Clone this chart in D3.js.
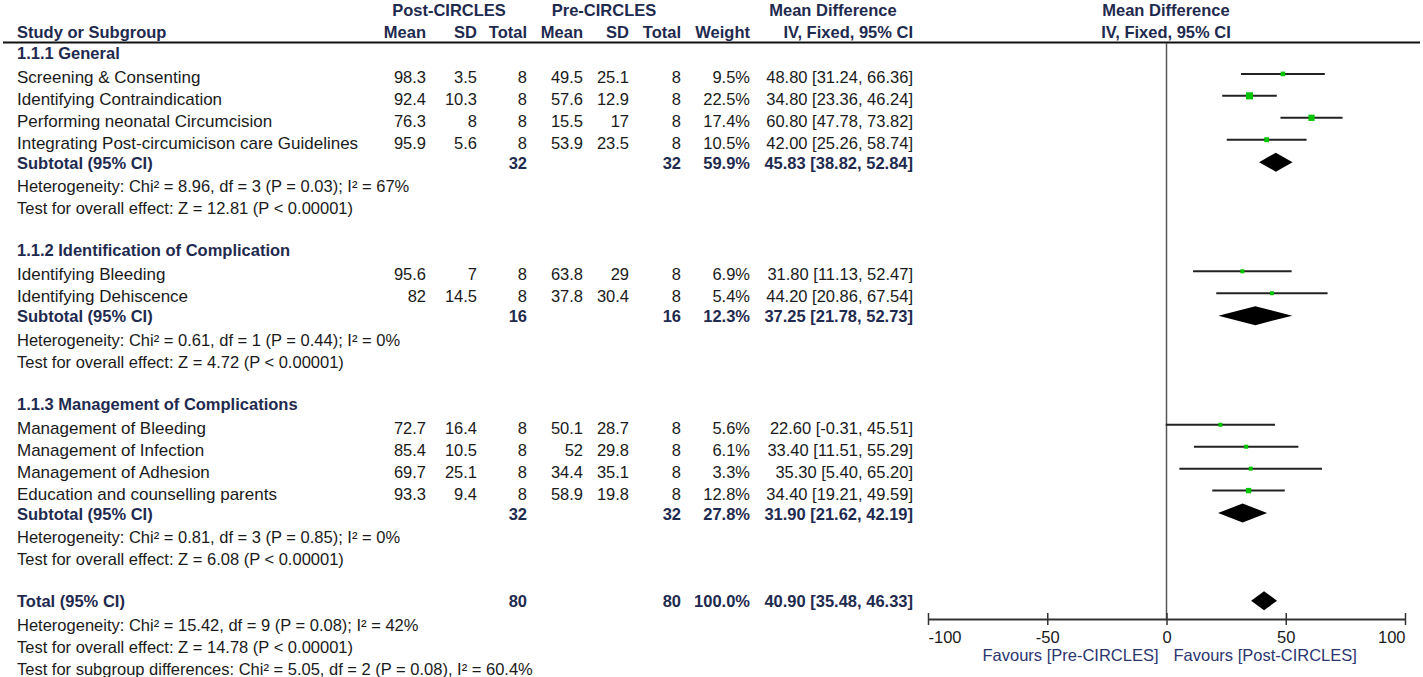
<!DOCTYPE html>
<html>
<head>
<meta charset="utf-8">
<script src="https://cdn.jsdelivr.net/npm/d3@7"></script>
<style>
  body { margin: 0; background: #fff; }
  text { font-family: "Liberation Sans", Arial, sans-serif; font-size: 16.5px; }
</style>
</head>
<body>
<div class="svg-content"></div>
<script>
// subgroups
const groupNames = ["1.1.1 General", "1.1.2 Identification of Complication", "1.1.3 Management of Complications"];
const groupOf = [0, 0, 0, 0, 1, 1, 2, 2, 2, 2];

// studies
const studyNames = [
  "Screening & Consenting",
  "Identifying Contraindication",
  "Performing neonatal Circumcision",
  "Integrating Post-circumicison care Guidelines",
  "Identifying Bleeding",
  "Identifying Dehiscence",
  "Management of Bleeding",
  "Management of Infection",
  "Management of Adhesion",
  "Education and counselling parents"
];
const postMean = [98.3, 92.4, 76.3, 95.9, 95.6, 82, 72.7, 85.4, 69.7, 93.3];
const postSD   = [3.5, 10.3, 8, 5.6, 7, 14.5, 16.4, 10.5, 25.1, 9.4];
const postN    = [8, 8, 8, 8, 8, 8, 8, 8, 8, 8];
const preMean  = [49.5, 57.6, 15.5, 53.9, 63.8, 37.8, 50.1, 52, 34.4, 58.9];
const preSD    = [25.1, 12.9, 17, 23.5, 29, 30.4, 28.7, 29.8, 35.1, 19.8];
const preN     = [8, 8, 8, 8, 8, 8, 8, 8, 8, 8];
const weights  = [9.5, 22.5, 17.4, 10.5, 6.9, 5.4, 5.6, 6.1, 3.3, 12.8];
const md       = [48.80, 34.80, 60.80, 42.00, 31.80, 44.20, 22.60, 33.40, 35.30, 34.40];
const ciLow    = [31.24, 23.36, 47.78, 25.26, 11.13, 20.86, -0.31, 11.51, 5.40, 19.21];
const ciHigh   = [66.36, 46.24, 73.82, 58.74, 52.47, 67.54, 45.51, 55.29, 65.20, 49.59];

// subtotals
const subPostN   = [32, 16, 32];
const subPreN    = [32, 16, 32];
const subWeight  = [59.9, 12.3, 27.8];
const subMd      = [45.83, 37.25, 31.90];
const subLow     = [38.82, 21.78, 21.62];
const subHigh    = [52.84, 52.73, 42.19];
const subHetero  = [
  "Heterogeneity: Chi\u00b2 = 8.96, df = 3 (P = 0.03); I\u00b2 = 67%",
  "Heterogeneity: Chi\u00b2 = 0.61, df = 1 (P = 0.44); I\u00b2 = 0%",
  "Heterogeneity: Chi\u00b2 = 0.81, df = 3 (P = 0.85); I\u00b2 = 0%"
];
const subEffect  = [
  "Test for overall effect: Z = 12.81 (P < 0.00001)",
  "Test for overall effect: Z = 4.72 (P < 0.00001)",
  "Test for overall effect: Z = 6.08 (P < 0.00001)"
];

// total
const totalPostN = 80, totalPreN = 80, totalWeight = 100.0;
const totalMd = 40.90, totalLow = 35.48, totalHigh = 46.33;
const totalNotes = [
  "Heterogeneity: Chi\u00b2 = 15.42, df = 9 (P = 0.08); I\u00b2 = 42%",
  "Test for overall effect: Z = 14.78 (P < 0.00001)",
  "Test for subgroup differences: Chi\u00b2 = 5.05, df = 2 (P = 0.08), I\u00b2 = 60.4%"
];

// axis
const axisTicks = [-100, -50, 0, 50, 100];
const favourLeft = "Favours [Pre-CIRCLES]";
const favourRight = "Favours [Post-CIRCLES]";

const width = 1423, height = 677;
const navy = "#1f2a4f", ink = "#1a1a1a", green = "#00c400";

// plain hyphen for negatives, like the original
const loc = d3.formatLocale({ decimal: ".", thousands: ",", grouping: [3], currency: ["$", ""], minus: "-" });
const f2 = loc.format(".2f"), f1 = loc.format(".1f"), fd = loc.format("d");

const svg = d3.select(".svg-content").append("svg")
  .attr("width", width).attr("height", height);

// build row order
const rows = [];
groupNames.forEach((g, gi) => {
  rows.push({ type: "heading", text: g });
  studyNames.forEach((s, i) => { if (groupOf[i] === gi) rows.push({ type: "study", i: i }); });
  rows.push({ type: "subtotal", g: gi });
  rows.push({ type: "note", text: subHetero[gi] });
  rows.push({ type: "note", text: subEffect[gi] });
  rows.push({ type: "blank" });
});
rows.push({ type: "total" });
totalNotes.forEach(t => rows.push({ type: "note", text: t }));

const yScale = d3.scaleLinear().domain([0, rows.length - 1]).range([59, 673]);
const baseline = (r, idx) => yScale(idx) + (r.type === "study" ? 2 : r.type === "note" ? 1.5 : 0);

const xScale = d3.scaleLinear().domain([-100, 100]).range([928, 1405]);

// column right edges
const col = { postMean: 426, postSD: 477, postN: 527, preMean: 583, preSD: 629, preN: 681, weight: 750, ci: 913 };

const ciText = (m, l, h) => f2(m) + " [" + f2(l) + ", " + f2(h) + "]";

// headers
const header = svg.append("g").attr("font-weight", "bold").attr("fill", navy);
header.append("text").attr("x", 449).attr("y", 16).attr("text-anchor", "middle").text("Post-CIRCLES");
header.append("text").attr("x", 604).attr("y", 16).attr("text-anchor", "middle").text("Pre-CIRCLES");
header.append("text").attr("x", 833).attr("y", 16).attr("text-anchor", "middle").text("Mean Difference");
header.append("text").attr("x", 1166).attr("y", 16).attr("text-anchor", "middle").text("Mean Difference");
header.append("text").attr("x", 17).attr("y", 38).text("Study or Subgroup");
[["Mean", col.postMean], ["SD", col.postSD], ["Total", col.postN], ["Mean", col.preMean],
 ["SD", col.preSD], ["Total", col.preN], ["Weight", col.weight], ["IV, Fixed, 95% CI", col.ci]]
  .forEach(([t, x]) => header.append("text").attr("x", x).attr("y", 38).attr("text-anchor", "end").text(t));
header.append("text").attr("x", 1166).attr("y", 38).attr("text-anchor", "middle").text("IV, Fixed, 95% CI");

svg.append("line").attr("x1", 3).attr("x2", 1420).attr("y1", 42.5).attr("y2", 42.5)
  .attr("stroke", "#111").attr("stroke-width", 2);

// zero line
svg.append("line").attr("x1", xScale(0)).attr("x2", xScale(0)).attr("y1", 43).attr("y2", 619)
  .attr("stroke", "#555").attr("stroke-width", 1.5);

const table = svg.append("g");
const plot = svg.append("g");

const rcell = (g, x, y, t) => g.append("text").attr("x", x).attr("y", y).attr("text-anchor", "end").text(t);

rows.forEach((r, idx) => {
  const y = baseline(r, idx);
  if (r.type === "heading") {
    table.append("text").attr("x", 17).attr("y", y).attr("font-weight", "bold").attr("fill", navy).text(r.text);
  } else if (r.type === "study") {
    const i = r.i;
    const g = table.append("g").attr("fill", ink);
    g.append("text").attr("x", 17).attr("y", y).style("font-size", "17px").text(studyNames[i]);
    rcell(g, col.postMean, y, postMean[i]);
    rcell(g, col.postSD, y, postSD[i]);
    rcell(g, col.postN, y, postN[i]);
    rcell(g, col.preMean, y, preMean[i]);
    rcell(g, col.preSD, y, preSD[i]);
    rcell(g, col.preN, y, preN[i]);
    rcell(g, col.weight, y, f1(weights[i]) + "%");
    rcell(g, col.ci, y, ciText(md[i], ciLow[i], ciHigh[i]));
    const my = y - 9;
    plot.append("line").attr("x1", xScale(ciLow[i])).attr("x2", xScale(ciHigh[i]))
      .attr("y1", my).attr("y2", my).attr("stroke", "#222").attr("stroke-width", 2);
    const s = Math.max(4, 1.5 * Math.sqrt(weights[i]));
    plot.append("rect").attr("x", xScale(md[i]) - s / 2).attr("y", my - s / 2)
      .attr("width", s).attr("height", s).attr("fill", green);
  } else if (r.type === "subtotal" || r.type === "total") {
    const isTot = r.type === "total";
    const gi = r.g;
    const g = table.append("g").attr("font-weight", "bold").attr("fill", navy);
    g.append("text").attr("x", 17).attr("y", y).text(isTot ? "Total (95% CI)" : "Subtotal (95% CI)");
    rcell(g, col.postN, y, isTot ? totalPostN : subPostN[gi]);
    rcell(g, col.preN, y, isTot ? totalPreN : subPreN[gi]);
    rcell(g, col.weight, y, f1(isTot ? totalWeight : subWeight[gi]) + "%");
    const m = isTot ? totalMd : subMd[gi], lo = isTot ? totalLow : subLow[gi], hi = isTot ? totalHigh : subHigh[gi];
    rcell(g, col.ci, y, ciText(m, lo, hi));
    const dy = y - 6.5, h = 9.5;
    plot.append("path")
      .attr("d", `M${xScale(lo)},${dy}L${xScale(m)},${dy - h}L${xScale(hi)},${dy}L${xScale(m)},${dy + h}Z`)
      .attr("fill", "#000");
  } else if (r.type === "note") {
    table.append("text").attr("x", 17).attr("y", y).attr("fill", ink).text(r.text);
  }
});

// axis
const axisY = 619;
const axis = svg.append("g").attr("transform", "translate(0," + axisY + ")")
  .call(d3.axisBottom(xScale).tickValues(axisTicks).tickSize(6).tickSizeOuter(0).tickFormat(fd));
axis.select(".domain").attr("stroke", "#333").attr("stroke-width", 2);
axis.selectAll(".tick line").attr("y1", -6).attr("y2", 6).attr("stroke", "#333").attr("stroke-width", 1.5);
axis.selectAll(".tick text")
  .attr("font-family", "Liberation Sans, Arial, sans-serif").attr("font-size", "16.5px")
  .attr("fill", ink).attr("y", 9).attr("dy", "0.9em")
  .attr("text-anchor", d => d === axisTicks[0] ? "start" : d === axisTicks[axisTicks.length - 1] ? "end" : "middle");

svg.append("text").attr("x", xScale(0) - 8).attr("y", 661).attr("text-anchor", "end")
  .attr("fill", "#2b3570").text(favourLeft);
svg.append("text").attr("x", xScale(0) + 7).attr("y", 661).attr("text-anchor", "start")
  .attr("fill", "#2b3570").text(favourRight);
</script>
</body>
</html>
